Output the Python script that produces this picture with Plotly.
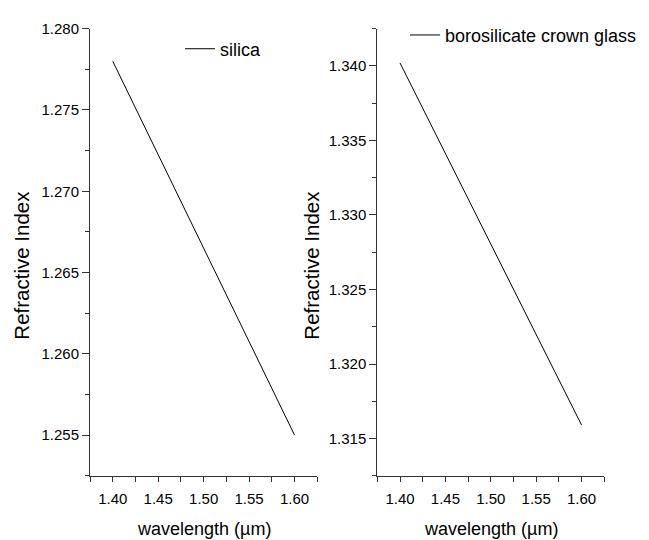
import plotly.graph_objects as go

# Data
wavelength = [1.40, 1.45, 1.50, 1.55, 1.60]
silica_n = [1.2780, 1.27225, 1.2665, 1.26075, 1.2550]
boro_n = [1.3402, 1.33413, 1.32805, 1.32198, 1.3159]

x_ticks = [1.40, 1.45, 1.50, 1.55, 1.60]
x_ticklabels = ["1.40", "1.45", "1.50", "1.55", "1.60"]
x_minor = [1.375, 1.425, 1.475, 1.525, 1.575, 1.625]
y1_ticks = [1.255, 1.260, 1.265, 1.270, 1.275, 1.280]
y1_minor = [1.2525, 1.2575, 1.2625, 1.2675, 1.2725, 1.2775]
y2_ticks = [1.315, 1.320, 1.325, 1.330, 1.335, 1.340]
y2_minor = [1.3125, 1.3175, 1.3225, 1.3275, 1.3325, 1.3375, 1.3425]

W, H = 649, 540
FONT = "Liberation Sans, Arial, sans-serif"

fig = go.Figure()
fig.add_trace(go.Scatter(x=wavelength, y=silica_n, mode="lines", name="silica",
                         line=dict(color="black", width=1), xaxis="x", yaxis="y", legend="legend"))
fig.add_trace(go.Scatter(x=wavelength, y=boro_n, mode="lines", name="borosilicate crown glass",
                         line=dict(color="black", width=1), xaxis="x2", yaxis="y2", legend="legend2"))

def px_x(p):
    return p / W

def px_y(p):
    return 1 - p / H

AX = "#333"
common_x = dict(range=[1.375, 1.625], tickvals=x_ticks, ticktext=x_ticklabels,
                ticks="outside", ticklen=5, tickwidth=1, tickcolor=AX,
                showline=True, linecolor=AX, linewidth=1, showgrid=False, zeroline=False,
                minor=dict(tickvals=x_minor, ticks="outside",
                           ticklen=5, tickcolor=AX, showgrid=False),
                ticklabelstandoff=4,
                tickfont=dict(family=FONT, size=15, color="black"), fixedrange=True)
common_y = dict(ticks="outside", ticklen=7, tickwidth=1, tickcolor=AX,
                showline=True, linecolor=AX, linewidth=1, showgrid=False, zeroline=False,
                tickfont=dict(family=FONT, size=15, color="black"), tickformat=".3f", fixedrange=True)

fig.update_layout(
    width=W, height=H,
    margin=dict(l=0, r=0, t=0, b=0),
    paper_bgcolor="white", plot_bgcolor="white",
    xaxis=dict(domain=[px_x(90), px_x(317.3)], anchor="y", **common_x),
    yaxis=dict(domain=[px_y(474.7), px_y(20)], anchor="x", range=[1.2525, 1.280],
               tickvals=y1_ticks,
               minor=dict(tickvals=y1_minor, ticks="outside",
                          ticklen=4, tickcolor=AX, showgrid=False),
               **common_y),
    xaxis2=dict(domain=[px_x(377.3), px_x(604.3)], anchor="y2", **common_x),
    yaxis2=dict(domain=[px_y(474.7), px_y(20)], anchor="x2", range=[1.3125, 1.3425],
                tickvals=y2_ticks,
                minor=dict(tickvals=y2_minor, ticks="outside",
                           ticklen=4, tickcolor=AX, showgrid=False),
                **common_y),
    legend=dict(x=px_x(180), y=px_y(40.7), xanchor="left", yanchor="middle",
                bgcolor="rgba(0,0,0,0)", font=dict(family=FONT, size=18, color="black"),
                itemwidth=30),
    legend2=dict(x=px_x(405), y=px_y(26.7), xanchor="left", yanchor="middle",
                 bgcolor="rgba(0,0,0,0)", font=dict(family=FONT, size=18, color="black"),
                 itemwidth=30),
    showlegend=True,
)

annots = [
    dict(text="wavelength (µm)", x=px_x(203.5), y=px_y(529), textangle=0, size=18),
    dict(text="wavelength (µm)", x=px_x(491), y=px_y(529), textangle=0, size=18),
    dict(text="Refractive Index", x=px_x(22), y=px_y(261), textangle=-90, size=20.5),
    dict(text="Refractive Index", x=px_x(312), y=px_y(261), textangle=-90, size=20.5),
]
for a in annots:
    size = a.pop("size")
    fig.add_annotation(xref="paper", yref="paper", showarrow=False,
                       xanchor="center", yanchor="middle",
                       font=dict(family=FONT, size=size, color="black"), **a)

fig.write_html("out.html")
